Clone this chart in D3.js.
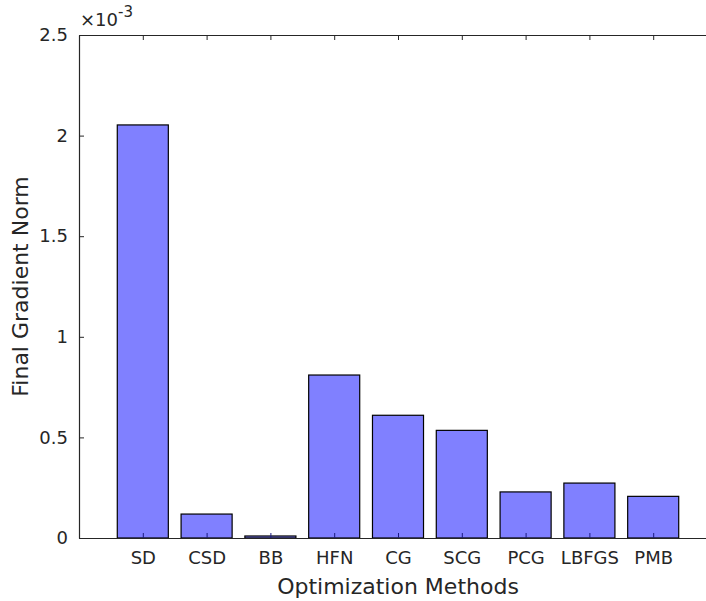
<!DOCTYPE html>
<html>
<head>
<meta charset="utf-8">
<script src="https://cdn.jsdelivr.net/npm/d3@7"></script>
<style>
  body { margin: 0; background: #fff; }
  svg { display: block; font-family: "DejaVu Sans", sans-serif; }
</style>
</head>
<body>
<svg id="chart" width="706" height="601"></svg>
<script>
// data (values in units of 1e-3)
var methods = ["SD", "CSD", "BB", "HFN", "CG", "SCG", "PCG", "LBFGS", "PMB"];
var gradNorm = [2.053, 0.119, 0.010, 0.810, 0.610, 0.535, 0.229, 0.273, 0.207];
var yTicks = [0, 0.5, 1, 1.5, 2, 2.5];

var margin = { top: 35, left: 79 };
var plotW = 638;   // axes run past the right edge of the window
var plotH = 503;
var axisColor = "#262626";

var svg = d3.select("#chart");
var g = svg.append("g").attr("transform", `translate(${margin.left},${margin.top})`);

// MATLAB style x: category i sits at i, limits [0, n+1]
var x = d3.scaleLinear().domain([0, methods.length + 1]).range([0, plotW]);
var y = d3.scaleLinear().domain([0, 2.5]).range([plotH, 0]);
var barW = (x(1) - x(0)) * 0.8;

//=========bars=========
g.selectAll("rect.bar")
  .data(gradNorm)
  .enter().append("rect")
  .attr("class", "bar")
  .attr("x", (d, i) => x(i + 1) - barW / 2)
  .attr("y", d => y(d))
  .attr("width", barW)
  .attr("height", d => Math.max(plotH - y(d), 0.5))
  .style("fill", "#8080ff")
  .style("stroke", "#000")
  .style("stroke-width", 1.2);

//=========axes (drawn on top of bars, ticks inward)=========
var tickPos = methods.map((m, i) => i + 1);

// left axis
g.append("g")
  .attr("color", axisColor)
  .style("font-size", "18px")
  .style("font-family", "DejaVu Sans, sans-serif")
  .call(d3.axisLeft(y).tickValues(yTicks).tickFormat(d3.format("")).tickSizeInner(-5).tickSizeOuter(0).tickPadding(11))
  .call(a => a.select(".domain").attr("stroke-width", 1.2))
  .call(a => a.selectAll("text").attr("fill", axisColor));

// bottom axis
g.append("g")
  .attr("color", axisColor)
  .attr("transform", `translate(0,${plotH})`)
  .style("font-size", "18px")
  .style("font-family", "DejaVu Sans, sans-serif")
  .call(d3.axisBottom(x).tickValues(tickPos).tickFormat((d, i) => methods[i]).tickSizeInner(-5).tickSizeOuter(0).tickPadding(13))
  .call(a => a.select(".domain").attr("stroke-width", 1.2))
  .call(a => a.selectAll(".tick line").attr("stroke", "#1a1a80"))
  .call(a => a.selectAll("text").attr("fill", axisColor));

// top box line
g.append("g")
  .attr("color", axisColor)
  .call(d3.axisTop(x).tickValues(tickPos).tickFormat("").tickSizeInner(-5).tickSizeOuter(0))
  .call(a => a.select(".domain").attr("stroke-width", 1.2));

//=========labels=========
g.append("text")
  .attr("x", 1)
  .attr("y", -9)
  .style("font-size", "18px")
  .style("fill", axisColor)
  .html('×10<tspan dy="-9" font-size="15px">-3</tspan>');

g.append("text")
  .attr("x", x(5))
  .attr("y", plotH + 56)
  .style("text-anchor", "middle")
  .style("font-size", "22px")
  .style("fill", axisColor)
  .text("Optimization Methods");

g.append("text")
  .attr("transform", `translate(${-51},${plotH / 2}) rotate(-90)`)
  .style("text-anchor", "middle")
  .style("font-size", "22px")
  .style("fill", axisColor)
  .text("Final Gradient Norm");
</script>
</body>
</html>
